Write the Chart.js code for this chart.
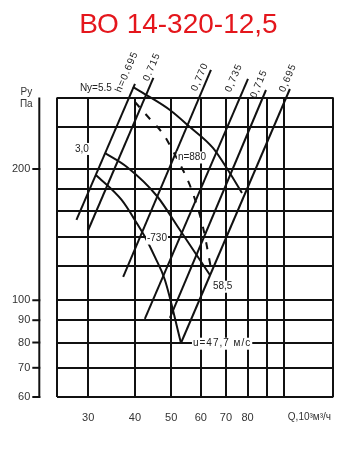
<!DOCTYPE html>
<html><head><meta charset="utf-8">
<script src="https://cdn.jsdelivr.net/npm/chart.js@4"></script>
<style>html,body{margin:0;padding:0;background:#fff;}canvas{display:block}</style>
</head><body>
<canvas id="c" width="361" height="470"></canvas>
<script>
// ---------- data ----------
const titleText = 'ВО 14-320-12,5';
const qRange = [24.8, 135.6];          // Q, 10^3 m3/h (log axis)
const pRange = [60, 291.7];            // Pv, Pa (log axis)
const qGridTicks = [30, 40, 50, 60, 70, 80, 90, 100];
const qTickLabels = [30, 40, 50, 60, 70, 80];
const pGridTicks = [70, 80, 90, 100, 120, 140, 160, 180, 200, 250];
const pTickLabels = [60, 70, 80, 90, 100, 200];

// efficiency rays (bottom point, top point)
const rayNames = ['h=0.695', '0.715', '0,770', '0,735', '0,715', '0,695'];
const rayQ = [[27.9, 40.0], [30.0, 44.8], [37.2, 63.85], [42.5, 80.2], [49.6, 89.6], [53.1, 103.8]];
const rayP = [[152.8, 313.3], [144.9, 323.4], [113.2, 337.5], [90.6, 321.7], [91.1, 303.5], [79.8, 305.1]];
const rayLabelQ = [38.07, 44.4, 59.67, 73.56, 85.8, 102.6];
const rayLabelP = [333.9, 342.7, 325.1, 323.4, 313.3, 323.4];

// curves
const curveA_Q = [39.5, 43.86, 49.6, 56.1, 64.64, 70.89, 77.29];
const curveA_P = [308.4, 292.4, 273.1, 249.6, 223.5, 198.9, 176.2];
const curveB_Q = [33.24, 38.07, 45.79, 52.76, 63.46];
const curveB_P = [217.6, 202.1, 173.4, 144.9, 114.3];
const curve730_Q = [31.45, 36.85, 40.42, 42.98, 45.22, 48.1, 53.09];
const curve730_P = [193.8, 169.8, 150.4, 137.5, 125.7, 111.3, 79.8];
const curve880_Q = [40.0, 43.86, 47.8, 50.53, 53.74, 56.45, 60.78, 63.85];
const curve880_P = [284.9, 260.4, 239.3, 219.9, 198.9, 180.9, 147.2, 118.6];

// text labels (left edge Q, centre P)
const labelTexts = ['Ny=5.5', '3,0', 'n=880', '-730', '58,5', 'u=47,7 м/с'];
const labelQ = [28.5, 27.64, 52.1, 43.07, 64.64, 57.16];
const labelP = [306.8, 222.3, 212.5, 138.5, 107.4, 79.5];
const labelBoxed = [false, true, true, true, true, true];

// ---------- chart ----------
const pts = (qs, ps) => qs.map((q, i) => ({x: q, y: ps[i]}));
const lineStyle = {borderColor: '#111', borderWidth: 2, pointRadius: 0, fill: false, clip: false};
const datasets = [];
rayQ.forEach((q, i) => datasets.push(Object.assign({data: pts(q, rayP[i]), tension: 0}, lineStyle)));
datasets.push(Object.assign({data: pts(curveA_Q, curveA_P), tension: 0.4, cubicInterpolationMode: 'monotone'}, lineStyle));
datasets.push(Object.assign({data: pts(curveB_Q, curveB_P), tension: 0.4, cubicInterpolationMode: 'monotone'}, lineStyle));
datasets.push(Object.assign({data: pts(curve730_Q, curve730_P), tension: 0.4, cubicInterpolationMode: 'monotone'}, lineStyle));
datasets.push(Object.assign({data: pts(curve880_Q, curve880_P), tension: 0.4, cubicInterpolationMode: 'monotone', borderDash: [7, 9]}, lineStyle));

const FONT = '"Liberation Sans", Arial, sans-serif';

const decor = {
  id: 'decor',
  afterDraw(chart) {
    const {ctx, chartArea: a, scales: {x, y}} = chart;
    ctx.save();
    // title
    ctx.fillStyle = '#e4161c';
    ctx.font = '28px ' + FONT;
    ctx.textAlign = 'center';
    ctx.textBaseline = 'alphabetic';
    ctx.fillText(titleText, chart.width / 2 - 2, 33);
    // separate y axis line with tick stubs
    const ax = a.left - 18;
    ctx.strokeStyle = '#111';
    ctx.lineWidth = 2;
    ctx.beginPath();
    ctx.moveTo(ax, a.top);
    ctx.lineTo(ax, y.getPixelForValue(pTickLabels[0]) + 1);
    ctx.stroke();
    pTickLabels.forEach(v => {
      const py = y.getPixelForValue(v);
      ctx.beginPath(); ctx.moveTo(ax - 7, py); ctx.lineTo(ax + 1, py); ctx.stroke();
    });
    // axis titles
    ctx.fillStyle = '#333';
    ctx.font = '10px ' + FONT;
    ctx.textAlign = 'center';
    ctx.textBaseline = 'middle';
    ctx.fillText('Ру', ax - 13, a.top - 5);
    ctx.fillText('Па', ax - 13, a.top + 7);
    ctx.textAlign = 'left';
    ctx.fillText('Q,10³м³/ч', x.getPixelForValue(qGridTicks[qGridTicks.length - 1]) + 4, a.bottom + 20);
    // line labels (with white box breaking the grid)
    ctx.font = '10px ' + FONT;
    ctx.textAlign = 'left';
    labelTexts.forEach((t, i) => {
      ctx.letterSpacing = (i === 5) ? '1px' : '0px';
      const lx = x.getPixelForValue(labelQ[i]), ly = y.getPixelForValue(labelP[i]);
      if (labelBoxed[i]) {
        const w = ctx.measureText(t).width;
        ctx.fillStyle = '#fff';
        ctx.fillRect(lx - 1, ly - 6, w + 2, 12);
      }
      ctx.fillStyle = '#222';
      ctx.fillText(t, lx, ly);
    });
    // rotated efficiency labels
    ctx.letterSpacing = '1px';
    ctx.textAlign = 'center';
    rayNames.forEach((t, i) => {
      const x0 = x.getPixelForValue(rayQ[i][0]), y0 = y.getPixelForValue(rayP[i][0]);
      const x1 = x.getPixelForValue(rayQ[i][1]), y1 = y.getPixelForValue(rayP[i][1]);
      const ang = Math.atan2(y1 - y0, x1 - x0);
      ctx.save();
      ctx.translate(x.getPixelForValue(rayLabelQ[i]), y.getPixelForValue(rayLabelP[i]));
      ctx.rotate(ang);
      ctx.fillText(t, 0, 0);
      ctx.restore();
    });
    ctx.restore();
  }
};

new Chart(document.getElementById('c'), {
  type: 'line',
  data: {datasets},
  options: {
    responsive: false,
    animation: false,
    layout: {padding: {left: 0, top: 97.5, right: 27.7, bottom: 0}},
    plugins: {legend: {display: false}, tooltip: {enabled: false}, title: {display: false}},
    scales: {
      x: {
        type: 'logarithmic', position: 'bottom', min: qRange[0], max: qRange[1],
        afterBuildTicks: s => { s.ticks = [qRange[0], ...qGridTicks, qRange[1]].map(v => ({value: v})); },
        afterFit: s => { s.height = 73; },
        grid: {color: '#111', lineWidth: 2, drawTicks: false},
        border: {display: false},
        ticks: {
          autoSkip: false, maxRotation: 0, padding: 14, color: '#333',
          font: {family: FONT, size: 11},
          callback: v => qTickLabels.includes(v) ? String(v) : ''
        }
      },
      y: {
        type: 'logarithmic', position: 'left', min: pRange[0], max: pRange[1],
        afterBuildTicks: s => { s.ticks = [...pGridTicks.concat([pRange[0]]).sort((m, n) => m - n), pRange[1]].map(v => ({value: v})); },
        afterFit: s => { s.width = 57.3; },
        grid: {color: '#111', lineWidth: 2, drawTicks: false},
        border: {display: false},
        ticks: {
          autoSkip: false, padding: 27, color: '#333',
          font: {family: FONT, size: 11},
          callback: v => pTickLabels.includes(v) ? String(v) : ''
        }
      }
    }
  },
  plugins: [decor]
});
</script>
</body></html>
